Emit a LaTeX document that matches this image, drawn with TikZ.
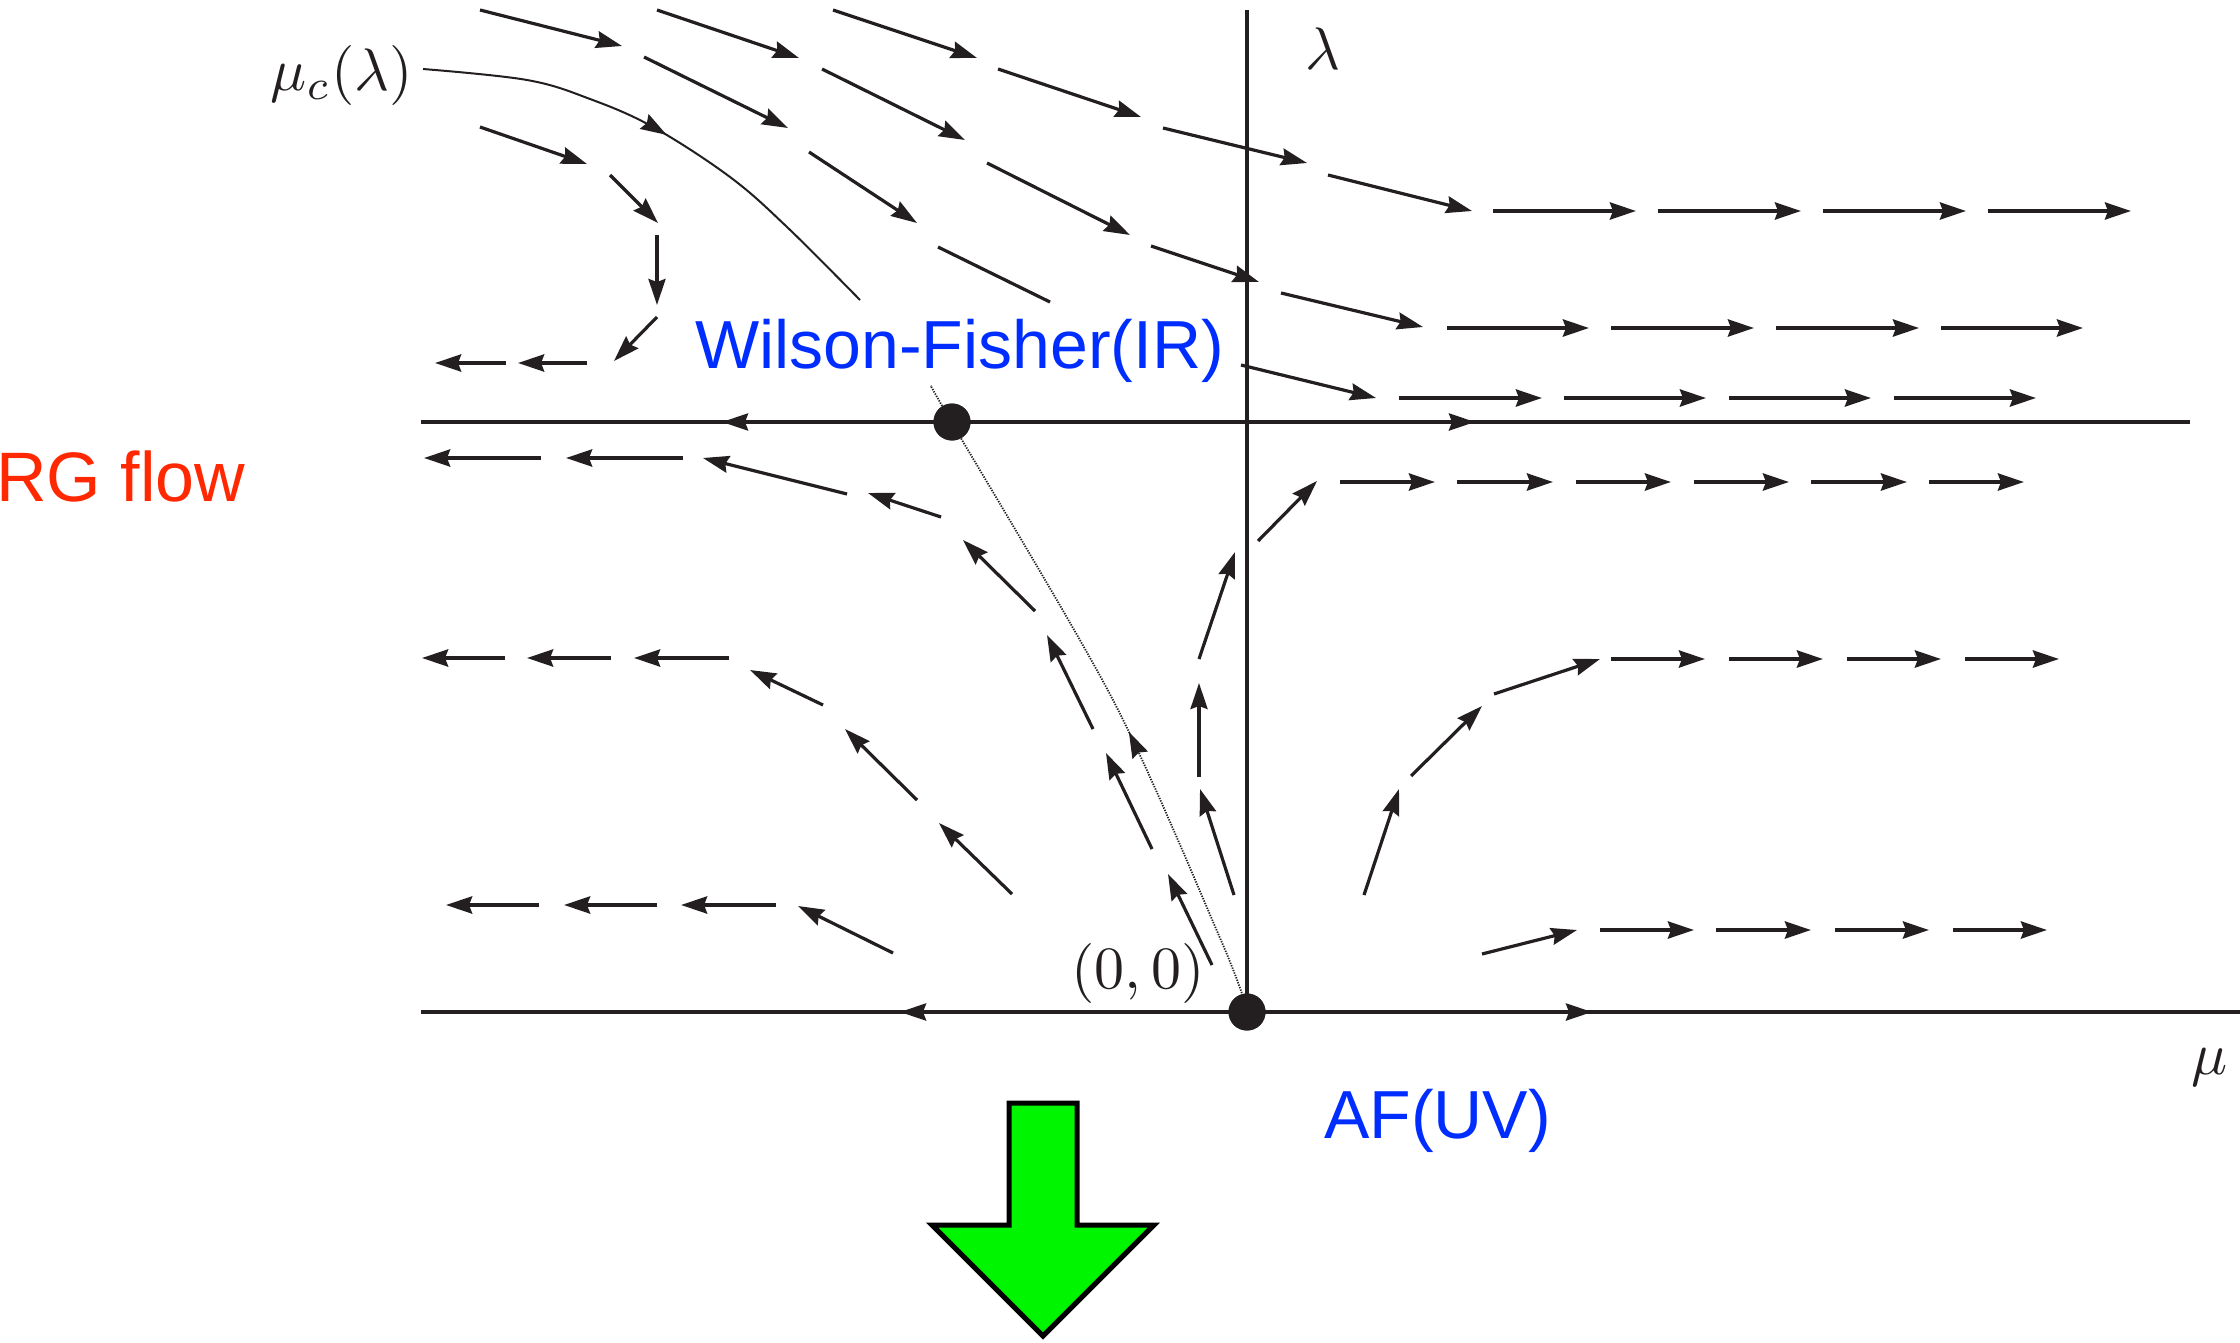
\documentclass[tikz,border=0pt]{standalone}
\usepackage{fontspec}
\newfontfamily\labfont{Liberation Sans}
\usetikzlibrary{arrows.meta,decorations.markings}
\definecolor{ink}{RGB}{35,31,32}
\definecolor{wfblue}{RGB}{0,45,255}
\definecolor{rgred}{RGB}{255,40,0}
\definecolor{arrowgreen}{RGB}{0,245,0}
\tikzset{
  flow/.style={draw=ink, line width=3.2pt, ->},
  hflow/.style={draw=ink, line width=4pt, ->},
  plainseg/.style={draw=ink, line width=3.2pt},
  axisline/.style={draw=ink, line width=3.8pt},
  fixpt/.style={circle, fill=ink, inner sep=0pt, minimum size=37pt},
  mathlab/.style={inner sep=0pt, text=ink, font=\fontsize{10}{12}\selectfont, scale=6.0, transform shape},
  sanslab/.style={inner sep=0pt, font=\labfont\fontsize{68}{76}\selectfont},
}
\begin{document}
\begin{tikzpicture}[x=1pt, y=-1pt, >={Stealth[length=26pt,width=17pt,inset=3pt]}]
\useasboundingbox (0,0) rectangle (2240,1343);

% critical line mu_c(lambda), upper part
\draw[ink, line width=2pt, postaction={decorate},
  decoration={markings, mark=at position 0.5 with {\arrow{>}}}]
  plot[smooth, tension=0.6] coordinates {(423,69) (527,80) (590,99) (653,127) (730,177) (787,227) (860,300)};
% critical line, lower dotted part (origin -> WF)
\draw[ink, line width=1.8pt, dash pattern=on 1.3pt off 1.3pt, postaction={decorate},
  decoration={markings, mark=at position 0.425 with {\arrow[solid]{>}}}]
  plot[smooth, tension=0.5] coordinates {(1245,1003) (1220,938) (1113,700) (952,423) (931,386)};

% chain A
\foreach \x/\y/\u/\v in {480/10/622/46, 644/57/788/128, 809/152/917/223, 1241/365/1376/398}
  \draw[flow] (\x,\y) -- (\u,\v);
\draw[plainseg] (938,247) -- (1050,302);
\foreach \a/\b in {1399/1542, 1564/1706, 1729/1871, 1894/2036}
  \draw[hflow] (\a,398) -- (\b,398);
% chain B
\foreach \x/\y/\u/\v in {657/10/799/58, 822/69/965/140, 987/163/1130/235, 1151/246/1259/282, 1281/293/1423/327}
  \draw[flow] (\x,\y) -- (\u,\v);
\foreach \a/\b in {1447/1589, 1611/1754, 1776/1919, 1941/2083}
  \draw[hflow] (\a,328) -- (\b,328);
% chain C
\foreach \x/\y/\u/\v in {833/10/977/58, 998/69/1141/117, 1163/128/1307/163, 1328/175/1472/211}
  \draw[flow] (\x,\y) -- (\u,\v);
\foreach \a/\b in {1493/1636, 1658/1801, 1823/1966, 1988/2131}
  \draw[hflow] (\a,211) -- (\b,211);
% chain D
\foreach \x/\y/\u/\v in {480/127/587/164, 610/175/658/223, 657/235/657/305, 657/317/614/361}
  \draw[flow] (\x,\y) -- (\u,\v);
\foreach \a/\b in {587/518, 506/435}
  \draw[hflow] (\a,363) -- (\b,363);
% chain E
\foreach \x/\y/\u/\v in {1212/965/1168/874, 1152/849/1106/753, 1093/729/1047/635, 1035/611/963/540, 941/517/868/493, 847/494/703/458}
  \draw[flow] (\x,\y) -- (\u,\v);
\foreach \a/\b in {683/566, 541/424}
  \draw[hflow] (\a,458) -- (\b,458);
% chain K
\foreach \x/\y/\u/\v in {1012/894/939/823, 917/800/845/729, 823/705/750/670}
  \draw[flow] (\x,\y) -- (\u,\v);
\foreach \a/\b in {729/634, 611/527, 505/422}
  \draw[hflow] (\a,658) -- (\b,658);
% chain L
\draw[flow] (893,953) -- (798,906);
\foreach \a/\b in {776/681, 657/564, 539/446}
  \draw[hflow] (\a,905) -- (\b,905);
% chain H
\foreach \x/\y/\u/\v in {1234/895/1200/789, 1199/777/1199/683, 1199/659/1235/552, 1258/541/1317/481}
  \draw[flow] (\x,\y) -- (\u,\v);
\foreach \a/\b in {1340/1435, 1457/1553, 1576/1671, 1694/1789, 1811/1907, 1929/2024}
  \draw[hflow] (\a,482) -- (\b,482);
% chain F
\foreach \x/\y/\u/\v in {1364/895/1399/789, 1411/776/1482/706, 1494/694/1600/659}
  \draw[flow] (\x,\y) -- (\u,\v);
\foreach \a/\b in {1611/1705, 1729/1823, 1847/1941, 1965/2059}
  \draw[hflow] (\a,659) -- (\b,659);
% chain G
\draw[flow] (1482,954) -- (1577,930);
\foreach \a/\b in {1600/1694, 1716/1811, 1835/1929, 1953/2047}
  \draw[hflow] (\a,930) -- (\b,930);

% axes
\coordinate (botL) at (421,1012);
\coordinate (botR) at (2240,1012);
\coordinate (wfL) at (421,422);
\coordinate (wfR) at (2190,422);
\coordinate (lamTop) at (1247,10);
\node[fixpt] (wf) at (952,422) {};
\node[fixpt] (origin) at (1247,1012) {};
\draw[axisline] (botL) -- (botR);
\draw[axisline] (wfL) -- (wfR);
\draw[axisline] (lamTop) -- (origin.center);
\draw[axisline, ->] (940,1012) -- (900,1012);
\draw[axisline, ->] (1550,1012) -- (1592,1012);
\draw[axisline, ->] (760,422) -- (722,422);
\draw[axisline, ->] (1435,422) -- (1475,422);
\node[fixpt] at (wf) {};
\node[fixpt] at (origin) {};

% labels
\node[sanslab, text=rgred, anchor=base west, font=\labfont\fontsize{70}{78}\selectfont] (rg) at (-4,501) {RG flow};
\node[sanslab, text=wfblue, anchor=base west] (wflab) at (695,368) {Wilson-Fisher(IR)};
\node[sanslab, text=wfblue, anchor=base west] (aflab) at (1324,1138) {AF(UV)};
\node[mathlab, anchor=base east] (mclab) at (414,91) {$\mu_c(\lambda)$};
\node[mathlab, anchor=base west] (lamlab) at (1304,70) {$\lambda$};
\node[mathlab, anchor=base west] (mulab) at (2190,1074) {$\mu$};
\node[mathlab, anchor=base west] (origlab) at (1070,988) {$(0,0)$};

% green arrow
\draw[draw=black, line width=5pt, fill=arrowgreen]
  (1009,1103) -- (1077,1103) -- (1077,1225) -- (1154,1225) -- (1043,1336) -- (932,1225) -- (1009,1225) -- cycle;
\end{tikzpicture}
\end{document}
